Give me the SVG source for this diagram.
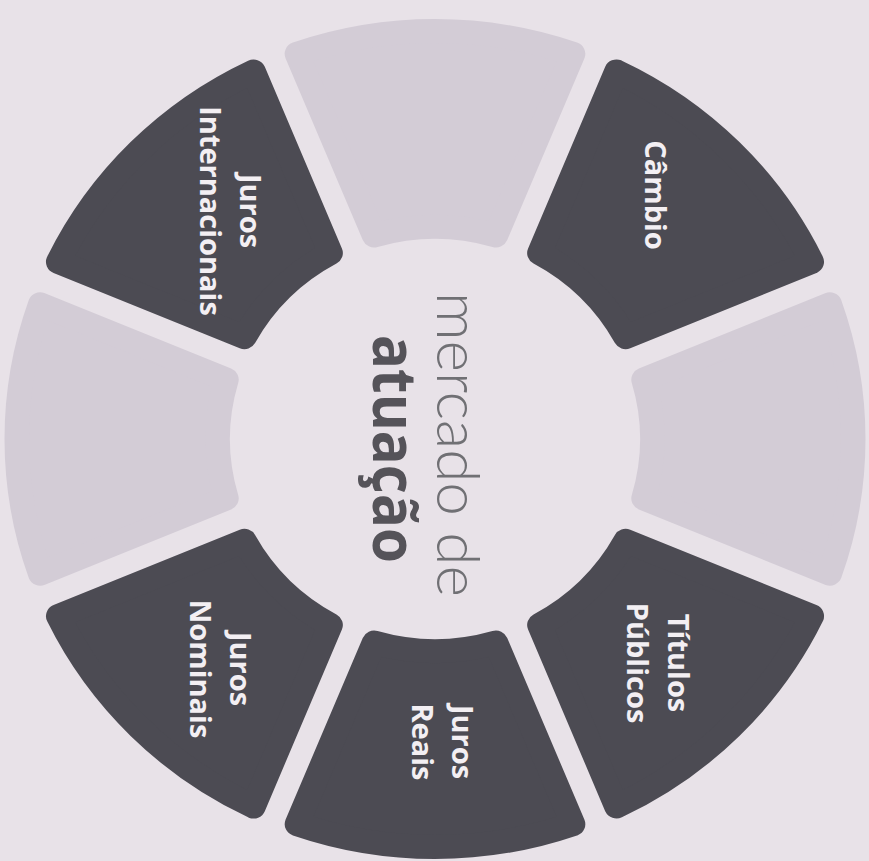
<svg xmlns="http://www.w3.org/2000/svg" width="869" height="861" viewBox="0 0 869 861">
<style>
.seg{stroke-width:24;stroke-linejoin:round}
.dark{fill:#4c4b53;stroke:#4c4b53}
.faint{fill:#d3ccd6;stroke:#d3ccd6}
.lbl{font-family:"Open Sans","Liberation Sans",sans-serif;font-weight:700;font-size:29px;fill:#f3eff3;text-anchor:middle}
.c1{font-family:Lato,"Open Sans","Liberation Sans",sans-serif;font-weight:300;font-size:60px;fill:#707074}
.c2{font-family:"Open Sans","Liberation Sans",sans-serif;font-weight:700;font-size:60px;fill:#555359}
</style>
<defs>
<path id="sector" d="M203.51,-59.40 L385.14,-134.64 A408,408 0 0 1 385.14,134.64 L203.51,59.40 A212,212 0 0 0 203.51,-59.40 Z"/>
</defs>
<rect width="869" height="861" fill="#e8e2e8"/>
<g id="connectors"/>
<g id="node-top">
<use href="#sector" class="seg faint" transform="translate(435,439) scale(1.025,1) rotate(-90)"/>
</g>
<g id="node-cambio">
<use href="#sector" class="seg dark" transform="translate(435,439) scale(1.025,1) rotate(-45)"/>
<text class="lbl" transform="translate(645,195) rotate(90)">Câmbio</text>
</g>
<g id="node-right">
<use href="#sector" class="seg faint" transform="translate(435,439) scale(1.025,1) rotate(0)"/>
</g>
<g id="node-titulos">
<use href="#sector" class="seg dark" transform="translate(435,439) scale(1.025,1) rotate(45)"/>
<text class="lbl" transform="translate(668,663) rotate(90)"><tspan x="0" y="0">Títulos</tspan><tspan x="0" y="41">Públicos</tspan></text>
</g>
<g id="node-juros-reais">
<use href="#sector" class="seg dark" transform="translate(435,439) scale(1.025,1) rotate(90)"/>
<text class="lbl" transform="translate(452,742) rotate(90)"><tspan x="0" y="0">Juros</tspan><tspan x="0" y="40">Reais</tspan></text>
</g>
<g id="node-juros-nominais">
<use href="#sector" class="seg dark" transform="translate(435,439) scale(1.025,1) rotate(135)"/>
<text class="lbl" transform="translate(230,669) rotate(90)"><tspan x="0" y="0">Juros</tspan><tspan x="0" y="40">Nominais</tspan></text>
</g>
<g id="node-left">
<use href="#sector" class="seg faint" transform="translate(435,439) scale(1.025,1) rotate(180)"/>
</g>
<g id="node-juros-internacionais">
<use href="#sector" class="seg dark" transform="translate(435,439) scale(1.025,1) rotate(225)"/>
<text class="lbl" transform="translate(240,211) rotate(90)"><tspan x="0" y="0">Juros</tspan><tspan x="0" y="40">Internacionais</tspan></text>
</g>
<g id="node-center">
<text class="c1" transform="translate(437,292) rotate(90)" textLength="305" lengthAdjust="spacingAndGlyphs">mercado de</text>
<text class="c2" transform="translate(373,335) rotate(90)" textLength="228" lengthAdjust="spacingAndGlyphs">atuação</text>
</g>
</svg>
